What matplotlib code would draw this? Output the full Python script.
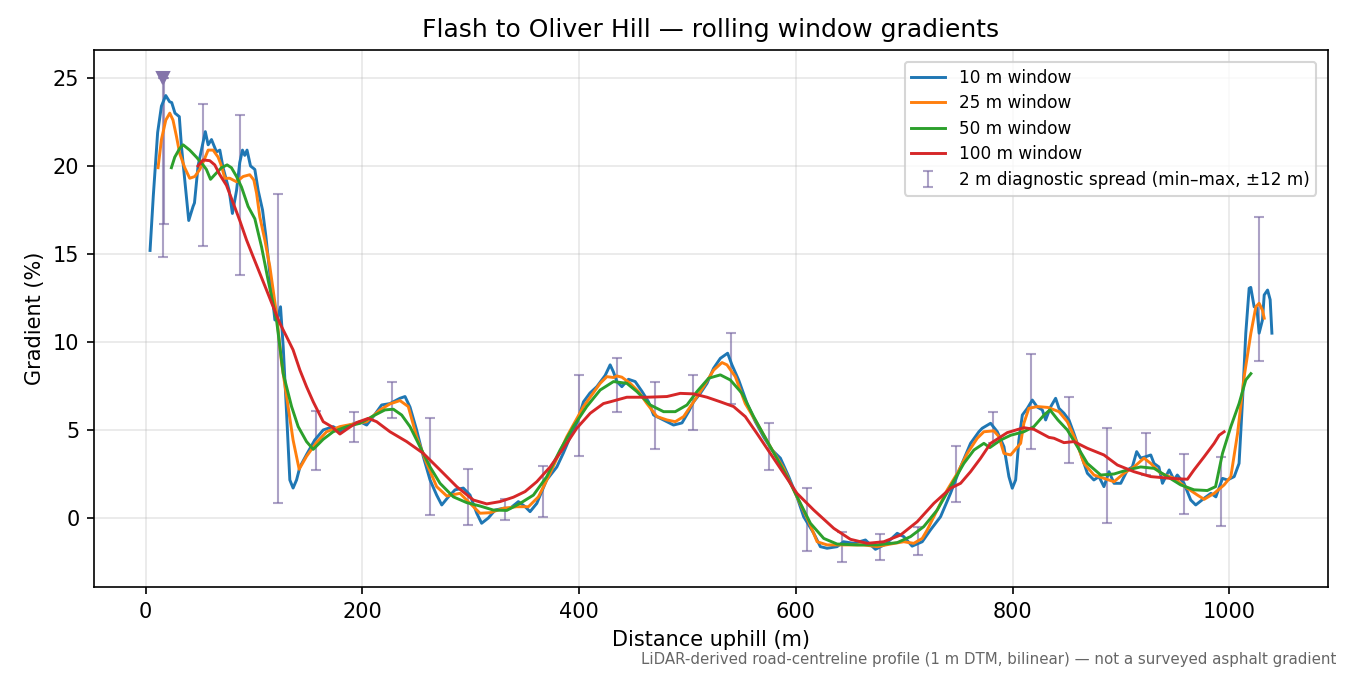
import matplotlib
matplotlib.use("Agg")
import matplotlib.pyplot as plt

# 10 m window
x10 = [4, 7, 11, 14.5, 18.5, 22, 24, 27, 31, 33, 36, 39.7, 43.7, 45, 48.3, 55, 57.6, 60.7, 65.3, 68.4,
       71.4, 77, 80, 83.8, 86.8, 89.3, 91.4, 93.5, 96.7, 100.7, 103.8, 107.8, 110.9, 114.5, 119.2, 121.3,
       124.4, 126.9, 130, 133, 136, 139.2, 142.3, 148.4, 156, 163.8, 173, 180.8, 188.5, 197.7, 203.9, 210,
       217.7, 225.4, 234.6, 239.3, 243.9, 250, 256.2, 262.4, 268.5, 273.2, 279.3, 285.5, 293.1, 299.3,
       305.5, 310, 316.2, 322.4, 330, 336.3, 343.9, 350, 354.7, 360.9, 370, 379.4, 385.5, 391.7, 397.8,
       404, 410, 416.3, 424, 428.6, 431.6, 434.8, 439.4, 445.5, 451.7, 457.9, 464, 468.7, 474.8, 481,
       487.1, 494.9, 501, 505.6, 511.8, 518, 524, 530.3, 537, 541, 547.2, 555, 562.6, 570.3, 578, 585.7,
       593.4, 601, 607.2, 616.5, 622.6, 628.8, 638, 644, 653.5, 664.2, 673.4, 682.7, 693.5, 699.6, 707.3,
       716.6, 724.2, 733.5, 742.7, 752, 761.2, 768.9, 772, 779.7, 785.9, 792, 796.6, 799.7, 802.8, 805.8,
       809, 813.6, 818.2, 822.8, 827.4, 830.5, 835, 839.7, 842.8, 847.4, 852, 856.6, 862.8, 869, 875,
       879.7, 884.3, 889, 893.6, 899.8, 906, 910.5, 914.5, 918.2, 922.8, 927.5, 930.5, 935, 938.3, 944.5,
       949, 952, 958.2, 964.4, 969, 976.8, 983, 987.6, 993.7, 998.3, 1004.5, 1009, 1012.2, 1015.2,
       1018.3, 1019.8, 1022.9, 1025.4, 1027.5, 1030.6, 1032.2, 1035.3, 1037.7, 1039.3]
g10 = [15.2, 18.3, 21.9, 23.4, 24.0, 23.65, 23.6, 23.0, 22.8, 21.1, 19.2, 16.9, 17.7, 17.9, 20.0, 21.95,
       21.2, 21.5, 20.8, 20.9, 19.9, 18.6, 17.3, 18.6, 20.2, 20.9, 20.6, 20.9, 20.0, 19.8, 18.6, 17.5, 16.0,
       13.9, 11.25, 11.25, 12.0, 9.7, 5.95, 2.16, 1.7, 2.16, 2.9, 3.6, 4.43, 5.0, 5.19, 4.9, 5.28, 5.47,
       5.28, 5.76, 6.42, 6.5, 6.8, 6.9, 6.3, 5.0, 3.48, 2.16, 1.3, 0.74, 1.2, 1.6, 1.7, 1.3, 0.27, -0.3,
       0.0, 0.45, 0.55, 0.55, 0.93, 0.65, 0.36, 0.83, 2.16, 2.9, 3.7, 4.6, 5.38, 6.6, 7.1, 7.46, 8.1, 8.7,
       8.3, 7.75, 7.46, 7.88, 7.75, 7.2, 6.6, 5.85, 5.66, 5.47, 5.28, 5.4, 6.04, 6.6, 7.08, 7.65, 8.5,
       9.07, 9.36, 8.7, 7.84, 6.5, 5.47, 4.6, 3.86, 3.4, 2.35, 1.2, 0.07, -0.87, -1.63, -1.72, -1.63,
       -1.35, -1.44, -1.25, -1.78, -1.49, -0.87, -1.06, -1.6, -1.35, -0.68, 0.07, 1.4, 2.9, 4.24, 4.9,
       5.1, 5.38, 4.9, 4.05, 2.35, 1.69, 2.16, 4.43, 5.85, 6.23, 6.7, 6.3, 6.14, 5.57, 6.3, 6.8, 6.23,
       5.95, 5.57, 4.8, 3.67, 2.54, 2.16, 2.35, 1.78, 2.63, 1.97, 1.97, 2.73, 2.9, 3.77, 3.4, 3.48, 3.58,
       3.1, 2.9, 1.97, 2.73, 2.16, 2.44, 1.97, 1.02, 0.74, 1.12, 1.4, 1.2, 2.25, 2.16, 2.35, 3.1, 6.7,
       10.5, 13.05, 13.1, 12.0, 11.95, 10.5, 11.25, 12.67, 12.95, 12.4, 10.5]

# 25 m window
x25 = [11.4, 14.5, 18.5, 22.2, 25.2, 28.3, 31.4, 36, 40.6, 45.3, 49.9, 53.6, 57.6, 62.2, 66.8, 69.9, 73,
       77.6, 83.8, 89.9, 96, 99.8, 102.3, 105.3, 109.9, 114.5, 120.7, 125.4, 130, 136, 141.6, 148.4,
       157.7, 166.9, 179.2, 191.5, 203.9, 216.2, 225.4, 234.6, 242.3, 250, 259.3, 268.5, 277.8, 290,
       299.3, 308.5, 317.8, 330, 342.4, 353.2, 362.4, 373.2, 388.6, 404, 419.4, 425.6, 431.7, 434.8,
       439.4, 447.1, 454.8, 462.5, 471.8, 481, 488.7, 496.4, 505.6, 514.8, 524.1, 531.8, 536.4, 544.1,
       553.3, 564.1, 576.4, 588.7, 601, 611.8, 619.6, 628.8, 644.2, 662.7, 675, 687.3, 699.6, 708.8,
       716.6, 721.2, 730.4, 739.7, 749, 758.2, 767.4, 773.5, 782.7, 787.4, 792, 798.2, 807.4, 810.4,
       815, 822.8, 832.6, 842.8, 850.5, 858.2, 865.9, 875.1, 884.3, 893.6, 902.8, 912, 921.3, 927.5,
       936.7, 949, 961.3, 970.6, 976.8, 986, 995.2, 1001.4, 1007.6, 1013.7, 1019.9, 1024.5, 1027.5,
       1030.6, 1032.2]
g25 = [19.9, 21.5, 22.6, 23.0, 22.6, 21.7, 20.7, 19.9, 19.3, 19.4, 19.8, 20.3, 20.9, 20.9, 20.5, 20.0,
       19.3, 19.3, 19.1, 19.4, 19.5, 19.2, 18.45, 17.1, 15.8, 14.3, 11.6, 8.8, 6.9, 4.43, 2.77, 3.5, 4.3,
       4.9, 5.19, 5.34, 5.47, 6.14, 6.48, 6.67, 6.33, 4.62, 3.1, 1.78, 1.25, 1.4, 0.83, 0.27, 0.3, 0.55,
       0.64, 0.64, 1.2, 2.54, 4.62, 6.33, 7.65, 8.03, 7.98, 8.07, 8.0, 7.65, 7.18, 6.5, 5.76, 5.57, 5.47,
       5.76, 6.6, 7.46, 8.4, 8.83, 8.7, 8.03, 6.5, 5.38, 4.05, 2.82, 1.2, -0.2, -1.35, -1.53, -1.53,
       -1.53, -1.63, -1.48, -1.35, -1.44, -1.16, -0.68, 0.45, 1.6, 2.54, 3.67, 4.53, 4.9, 4.95, 4.62,
       3.67, 3.58, 4.24, 5.38, 6.23, 6.33, 6.28, 6.04, 5.47, 4.43, 3.1, 2.44, 2.25, 2.06, 2.54, 2.9, 3.4,
       3.1, 2.54, 2.25, 1.69, 1.3, 1.06, 1.4, 1.88, 2.35, 4.8, 8.03, 10.5, 12.0, 12.2, 11.8, 11.35]

# 50 m window
x50 = [23.7, 26.8, 31.4, 34.5, 40.6, 46.8, 52.9, 56, 59.8, 63.7, 69.9, 75.1, 79.1, 83.8, 88.4, 94.5,
       100.7, 106.9, 113, 120.7, 126.9, 134.6, 140.7, 148.4, 154.6, 163.8, 173, 185.4, 197.7, 210,
       220.8, 228.5, 236.2, 243.9, 253.1, 262.4, 271.6, 283.9, 296.3, 308.5, 320.8, 333.2, 345.5,
       357.8, 370.1, 382.4, 394.7, 407, 419.4, 431.7, 444, 453.3, 465.6, 477.9, 488.7, 499.5, 508.7,
       519.5, 530.3, 539.5, 550.3, 561, 576.4, 591.8, 604.2, 613.4, 625.7, 638, 656.5, 675, 693.5,
       705.8, 718, 730.4, 742.7, 755, 764.3, 773.5, 779, 789, 798.2, 810.4, 819.6, 829, 834.5, 841.8,
       850.5, 859.8, 869, 881.3, 893.6, 906, 918.2, 930.5, 942.8, 955.1, 967.4, 979.7, 987.3, 993.7,
       1001.4, 1009, 1015.2, 1019.9]
g50 = [19.9, 20.5, 21.0, 21.2, 20.9, 20.5, 20.06, 19.8, 19.24, 19.5, 19.9, 20.06, 19.9, 19.4, 18.8,
       17.7, 17.0, 15.4, 13.5, 11.25, 8.2, 6.33, 5.19, 4.34, 3.9, 4.47, 4.9, 5.19, 5.38, 5.8, 6.14,
       6.18, 5.85, 5.19, 4.05, 2.9, 1.97, 1.2, 0.87, 0.68, 0.45, 0.43, 0.83, 1.3, 2.35, 3.86, 5.19,
       6.33, 7.27, 7.75, 7.65, 7.18, 6.42, 6.04, 6.04, 6.42, 7.18, 7.94, 8.13, 7.84, 7.08, 5.76, 4.05,
       2.35, 0.83, -0.3, -1.16, -1.48, -1.53, -1.53, -1.4, -1.06, -0.49, 0.45, 1.78, 3.1, 3.86, 4.24,
       4.0, 4.43, 4.7, 4.9, 5.19, 5.85, 6.14, 5.57, 5.0, 4.05, 3.1, 2.44, 2.5, 2.73, 2.9, 2.82, 2.35,
       1.88, 1.6, 1.56, 1.78, 3.67, 5.19, 6.5, 7.84, 8.2]

# 100 m window
x100 = [48.3, 52.9, 59.1, 63.7, 68.4, 74.5, 80.7, 86.8, 93, 99.1, 105.3, 111.5, 117.6, 123.8, 130, 136,
        142.3, 148.4, 154.6, 160.7, 163.8, 171.5, 179.2, 186.9, 194.6, 205.4, 213.1, 225.4, 240.8,
        256.2, 271.6, 287, 302.4, 314.7, 327, 339.3, 350.1, 360.9, 373.2, 385.5, 397.8, 410.2, 422.4,
        428.6, 444, 462.5, 481, 493.3, 505.6, 518, 530.3, 542.5, 553.3, 564.1, 576.4, 588.7, 601,
        616.5, 635, 650.3, 665.8, 681.1, 696.5, 712, 727.3, 742.7, 752, 761.2, 770.4, 779.7, 795.1,
        810.4, 819.6, 833.5, 838.2, 847.4, 856.6, 869, 884.3, 896.7, 912, 927.5, 946, 961.3, 967.4,
        976.8, 986, 990.6, 995.2]
g100 = [20.0, 20.34, 20.3, 20.06, 19.5, 18.9, 17.9, 16.9, 15.8, 14.85, 13.9, 12.95, 12.0, 11.06, 10.3,
        9.55, 8.4, 7.46, 6.6, 5.85, 5.47, 5.19, 4.77, 5.1, 5.42, 5.66, 5.47, 4.9, 4.34, 3.67, 2.73, 1.78,
        1.02, 0.8, 0.93, 1.18, 1.5, 2.06, 2.9, 3.96, 5.1, 5.95, 6.5, 6.6, 6.86, 6.86, 6.9, 7.08, 7.05,
        6.86, 6.6, 6.33, 5.76, 4.8, 3.67, 2.54, 1.4, 0.45, -0.59, -1.21, -1.44, -1.35, -0.97, -0.21,
        0.83, 1.69, 1.97, 2.63, 3.39, 4.24, 4.85, 5.13, 5.04, 4.58, 4.53, 4.28, 4.34, 3.96, 3.58, 3.01,
        2.63, 2.35, 2.25, 2.2, 2.73, 3.48, 4.24, 4.7, 4.9]

# 2 m diagnostic spread (min/max within +-12 m)
spread_x = [16, 17, 53, 87, 122, 157, 192, 227, 262, 297, 332, 367, 400, 435, 470, 505, 540, 575, 610,
            643, 678, 713, 748, 782, 817, 852, 887, 923, 958, 992, 1027]
spread_lo = [14.8, 16.7, 15.45, 13.8, 0.85, 2.75, 4.3, 5.7, 0.15, -0.4, -0.1, 0.05, 3.5, 6.0, 3.9, 5.0,
             6.5, 2.7, -1.9, -2.5, -2.4, -2.1, 0.93, 4.28, 3.9, 3.15, -0.3, 2.44, 0.2, -0.44, 8.94]
spread_hi = [25.0, 25.0, 23.5, 22.9, 18.4, 6.1, 6.0, 7.7, 5.7, 2.8, 1.08, 2.97, 8.1, 9.1, 7.7, 8.1,
             10.5, 5.4, 1.7, -0.8, -0.9, -0.5, 4.1, 6.0, 9.3, 6.87, 5.1, 4.85, 3.64, 3.48, 17.1]
clip_x = [16]
clip_y = [25]

fig, ax = plt.subplots(figsize=(9, 4.5), dpi=150)

ax.plot(x10, g10, color='#1f77b4', lw=1.4, label='10 m window', zorder=3)
ax.plot(x25, g25, color='#ff7f0e', lw=1.4, label='25 m window', zorder=3)
ax.plot(x50, g50, color='#2ca02c', lw=1.4, label='50 m window', zorder=3)
ax.plot(x100, g100, color='#d62728', lw=1.4, label='100 m window', zorder=3)

mid = [(a + b) / 2 for a, b in zip(spread_lo, spread_hi)]
half = [(b - a) / 2 for a, b in zip(spread_lo, spread_hi)]
ax.errorbar(spread_x, mid, yerr=half, fmt='none', ecolor='#7565a0', alpha=0.6,
            elinewidth=1.0, capsize=2.5, capthick=1.0, zorder=2,
            label='2 m diagnostic spread (min\u2013max, \u00b112 m)')
ax.plot(clip_x, clip_y, marker='v', ls='none', color='#8474aa', ms=6, zorder=4)

ax.set_title('Flash to Oliver Hill \u2014 rolling window gradients', fontsize=12)
ax.set_xlabel('Distance uphill (m)')
ax.set_ylabel('Gradient (%)')
ax.set_ylim(-3.92, 26.59)
ax.grid(True, alpha=0.3)
ax.legend(loc='upper right', fontsize=8.1, labelspacing=0.45, borderaxespad=0.7)

fig.text(0.99, 0.012, 'LiDAR-derived road-centreline profile (1 m DTM, bilinear) \u2014 not a surveyed asphalt gradient',
         ha='right', va='bottom', fontsize=7.2, color='#666666')

plt.subplots_adjust(left=0.0696, right=0.9837, top=0.926, bottom=0.1304)
plt.savefig('out.png', dpi=150)
